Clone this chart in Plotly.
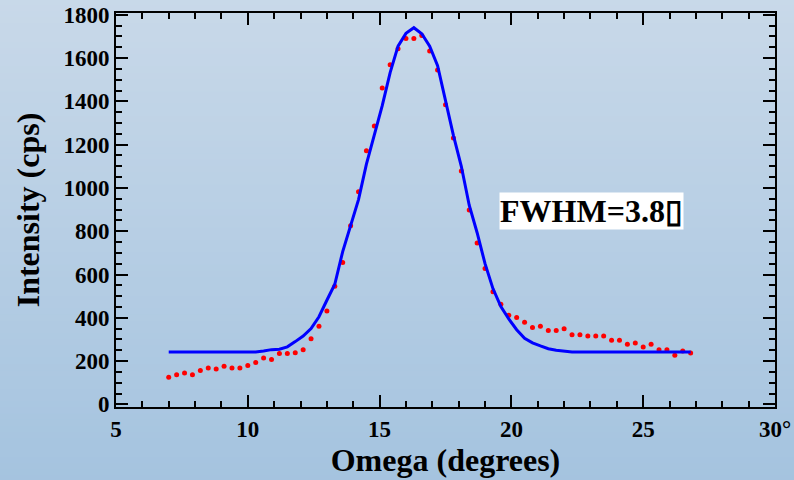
import plotly.graph_objects as go

# ---- data ----
omega = [7.0, 7.3, 7.6, 7.9, 8.2, 8.5, 8.8, 9.1, 9.4, 9.7,
         10.0, 10.3, 10.6, 10.9, 11.2, 11.5, 11.8, 12.1, 12.4, 12.7,
         13.0, 13.3, 13.6, 13.9, 14.2, 14.5, 14.8, 15.1, 15.4, 15.7,
         16.0, 16.3, 16.6, 16.9, 17.2, 17.5, 17.8, 18.1, 18.4, 18.7,
         19.0, 19.3, 19.6, 19.9, 20.2, 20.5, 20.8, 21.1, 21.4, 21.7,
         22.0, 22.3, 22.6, 22.9, 23.2, 23.5, 23.8, 24.1, 24.4, 24.7,
         25.0, 25.3, 25.6, 25.9, 26.2, 26.5, 26.8]

measured = [125, 137, 145, 137, 157, 168, 163, 176, 168, 168,
            180, 194, 214, 207, 235, 235, 239, 253, 303, 361,
            431, 546, 656, 825, 982, 1172, 1286, 1461, 1569, 1643,
            1690, 1690, 1704, 1633, 1545, 1384, 1231, 1078, 898, 745,
            628, 520, 463, 412, 401, 379, 355, 361, 341, 341,
            350, 322, 322, 316, 316, 316, 296, 296, 278, 284,
            265, 278, 253, 253, 227, 247, 237]

fitted = [242, 242, 242, 242, 242, 242, 242, 242, 242, 242,
          242, 242, 247, 253, 255, 266, 290, 316, 350, 405,
          481, 555, 706, 830, 946, 1110, 1240, 1380, 1533, 1655,
          1714, 1740, 1712, 1655, 1565, 1405, 1243, 1100, 920, 793,
          650, 535, 452, 395, 345, 305, 284, 270, 257, 250,
          245, 242, 242, 242, 242, 242, 242, 242, 242, 242,
          242, 242, 242, 242, 242, 242, 242]

x_tickvals = [5, 10, 15, 20, 25, 30]
x_ticktext = ["5", "10", "15", "20", "25", "30°"]
y_tickvals = [0, 200, 400, 600, 800, 1000, 1200, 1400, 1600, 1800]
y_ticktext = ["0", "200", "400", "600", "800", "1000", "1200", "1400", "1600", "1800"]

annotation_text = "FWHM=3.8▯"

# ---- layout geometry ----
W, H = 794, 480
ML, MR, MT, MB = 116, 19, 13, 73
PW, PH = W - ML - MR, H - MT - MB

FONT = "Liberation Serif, Times New Roman, serif"

fig = go.Figure()
fig.add_trace(go.Scatter(x=omega, y=measured, mode="markers",
                         marker=dict(color="#ff0000", size=5, line=dict(width=0)),
                         showlegend=False))
fig.add_trace(go.Scatter(x=omega, y=fitted, mode="lines",
                         line=dict(color="#0000ff", width=3),
                         showlegend=False))

# vertical gradient background across the whole figure
top = (201, 217, 233)
bot = (164, 195, 223)
n = 80
y0p = -MB / PH - 0.02
y1p = 1 + MT / PH + 0.02
shapes = []
for i in range(n):
    t = (i + 0.5) / n
    c = tuple(round(bot[k] + (top[k] - bot[k]) * t) for k in range(3))
    ya = y0p + (y1p - y0p) * i / n
    yb = y0p + (y1p - y0p) * (i + 1) / n + 0.002
    shapes.append(dict(type="rect", xref="paper", yref="paper",
                       x0=-ML / PW - 0.05, x1=1 + MR / PW + 0.05, y0=ya, y1=yb,
                       fillcolor="rgb(%d,%d,%d)" % c, line=dict(width=0),
                       layer="below"))

axis_common = dict(showline=True, linecolor="black", linewidth=2, mirror="ticks",
                   ticks="inside", ticklen=12, tickwidth=2, tickcolor="black",
                   showgrid=False, zeroline=False, automargin=False,
                   tickfont=dict(family=FONT, size=23, color="black", weight="bold"))

fig.update_layout(
    width=W, height=H, autosize=False,
    margin=dict(l=ML, r=MR, t=MT, b=MB, pad=0, autoexpand=False),
    paper_bgcolor="rgb(183,206,228)",
    plot_bgcolor="rgba(0,0,0,0)",
    shapes=shapes,
    xaxis=dict(range=[5, 30], tickvals=x_tickvals, ticktext=x_ticktext,
               minor=dict(dtick=1, ticks="inside", ticklen=6, tickwidth=2, tickcolor="black"),
               title=dict(text="Omega (degrees)", standoff=4,
                          font=dict(family=FONT, size=32, color="black", weight="bold")),
               **axis_common),
    yaxis=dict(range=[-12, 1808], tickvals=y_tickvals, ticktext=y_ticktext,
               minor=dict(dtick=50, ticks="inside", ticklen=6, tickwidth=2, tickcolor="black"),
               title=dict(text="Intensity (cps)", standoff=14,
                          font=dict(family=FONT, size=32, color="black", weight="bold")),
               **axis_common),
    annotations=[dict(x=19.53, y=893, xref="x", yref="y", text=annotation_text,
                      showarrow=False, xanchor="left", yanchor="middle",
                      bgcolor="white", borderpad=0,
                      font=dict(family=FONT, size=32, color="black", weight="bold"))],
)

fig.write_html("out.html",
               config={"displayModeBar": False},
               post_script="document.body.style.margin='0';document.body.style.padding='0';"
                           "document.documentElement.style.overflow='hidden';")
